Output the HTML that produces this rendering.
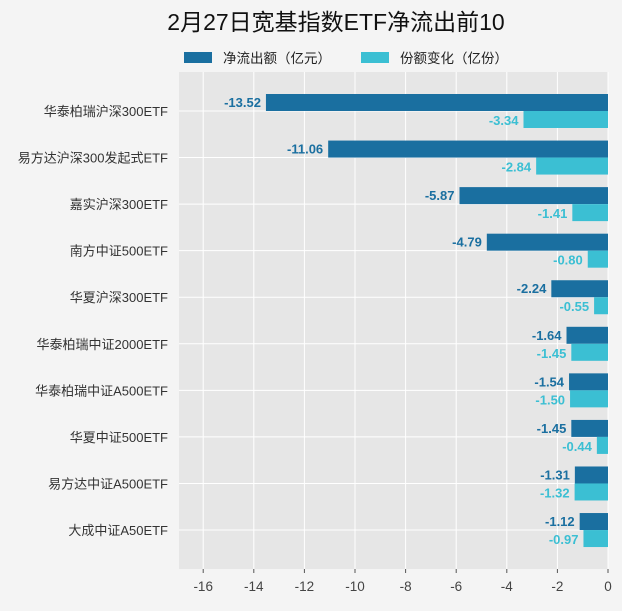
<!DOCTYPE html>
<html><head><meta charset="utf-8"><style>
body{margin:0;background:#f4f4f4;font-family:"Liberation Sans","Noto Sans CJK SC",sans-serif;}
</style></head><body>
<svg id="c" width="622" height="606" xmlns="http://www.w3.org/2000/svg">
<rect width="622" height="606" fill="#f4f4f4"/>
<text x="336" y="30" font-size="23" text-anchor="middle" fill="#111" font-family="Liberation Sans,Noto Sans CJK SC,sans-serif">2月27日宽基指数ETF净流出前10</text>
<g>
<rect x="184" y="52" width="28" height="11" fill="#1a6fa0"/>
<text x="223" y="63" font-size="13.5" fill="#222" font-family="Noto Sans CJK SC,sans-serif">净流出额（亿元）</text>
<rect x="361" y="52" width="28" height="11" fill="#3bbfd3"/>
<text x="400" y="63" font-size="13.5" fill="#222" font-family="Noto Sans CJK SC,sans-serif">份额变化（亿份）</text>
</g>
<rect x="179" y="72" width="429" height="497" fill="#e6e6e6"/>
<g id="grid"></g><g id="bars"></g><g id="axes"></g>
</svg>
<script>
const categories=["华泰柏瑞沪深300ETF","易方达沪深300发起式ETF","嘉实沪深300ETF","南方中证500ETF","华夏沪深300ETF","华泰柏瑞中证2000ETF","华泰柏瑞中证A500ETF","华夏中证500ETF","易方达中证A500ETF","大成中证A50ETF"];
const netOutflow=[-13.52,-11.06,-5.87,-4.79,-2.24,-1.64,-1.54,-1.45,-1.31,-1.12];
const shareChange=[-3.34,-2.84,-1.41,-0.80,-0.55,-1.45,-1.50,-0.44,-1.32,-0.97];
const xTicks=[-16,-14,-12,-10,-8,-6,-4,-2,0];
const NS="http://www.w3.org/2000/svg";
const x=v=>608+v*25.3;
const y=i=>111+i*46.56;
function el(t,a,p,txt){const e=document.createElementNS(NS,t);for(const k in a)e.setAttribute(k,a[k]);if(txt!==undefined)e.textContent=txt;document.getElementById(p).appendChild(e);return e;}
xTicks.forEach(t=>{
 const g=el('line',{x1:x(t),x2:x(t),y1:72,y2:569,stroke:'#fff','stroke-width':1},'grid');
 
 
 const tk=el('line',{x1:x(t),x2:x(t),y1:569,y2:573,stroke:'#555'},'axes');
 
 
 const l=el('text',{x:x(t),y:591,'font-size':13.5,'text-anchor':'middle',fill:'#444'},'axes',String(t).replace('-','-'));
 
 
});
categories.forEach((c,i)=>{
 const g=el('line',{x1:179,x2:608,y1:y(i),y2:y(i),stroke:'#fff','stroke-width':1},'grid');
 
 
 const l=el('text',{x:168,y:y(i)+5,'font-size':13,'text-anchor':'end',fill:'#333','font-family':'Liberation Sans,Noto Sans CJK SC,sans-serif'},'axes',c);
 
 
 const v1=netOutflow[i],v2=shareChange[i];
 const b1=el('rect',{x:x(v1),y:y(i)-17,width:x(0)-x(v1),height:17,fill:'#1a6fa0'},'bars');
 
 
 const b2=el('rect',{x:x(v2),y:y(i),width:x(0)-x(v2),height:17,fill:'#3bbfd3'},'bars');
 
 
 const t1=el('text',{x:x(v1)-5,y:y(i)-4,'font-size':13,'font-weight':'bold','text-anchor':'end',fill:'#1a6fa0'},'bars',v1.toFixed(2));
 
 
 const t2=el('text',{x:x(v2)-5,y:y(i)+14,'font-size':13,'font-weight':'bold','text-anchor':'end',fill:'#3bbfd3'},'bars',v2.toFixed(2));
 
 
});
</script>
</body></html>
